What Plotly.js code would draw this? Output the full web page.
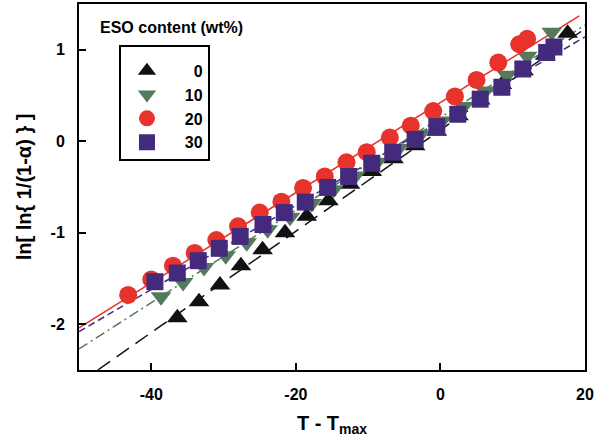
<!DOCTYPE html>
<html>
<head>
<meta charset="utf-8">
<script src="https://cdn.plot.ly/plotly-3.0.1.min.js"></script>
<style>html,body{margin:0;padding:0;background:#fff;}#chart{width:609px;height:447px;}</style>
</head>
<body>
<div id="chart"></div>
<script>
// ESO content 0 wt%
const x0 = [-36.4, -33.4, -30.5, -27.6, -24.6, -21.5, -18.5, -15.5, -12.5, -9.5, -6.5, -3.5, -0.5, 2.5, 5.5, 8.5, 11.5, 14.5, 17.6];
const y0 = [-1.93, -1.755, -1.57, -1.36, -1.185, -1.0, -0.82, -0.65, -0.47, -0.33, -0.19, -0.05, 0.11, 0.28, 0.45, 0.62, 0.77, 0.94, 1.18];
// ESO content 10 wt%
const x10 = [-38.65, -35.6, -32.7, -29.7, -26.8, -23.9, -20.8, -17.8, -14.8, -11.8, -8.8, -5.8, -2.8, 0.2, 3.2, 6.2, 9.2, 12.0, 15.4];
const y10 = [-1.70, -1.545, -1.38, -1.25, -1.11, -0.966, -0.83, -0.68, -0.53, -0.38, -0.23, -0.08, 0.07, 0.22, 0.38, 0.55, 0.72, 0.93, 1.19];
// ESO content 20 wt%
const x20 = [-43.2, -40.0, -37.0, -34.0, -31.0, -28.0, -25.0, -22.0, -19.0, -16.0, -13.0, -10.2, -7.0, -4.1, -1.0, 2.0, 5.0, 8.0, 10.9, 12.0];
const y20 = [-1.68, -1.51, -1.36, -1.22, -1.08, -0.93, -0.78, -0.66, -0.51, -0.385, -0.23, -0.12, 0.04, 0.17, 0.33, 0.49, 0.67, 0.86, 1.06, 1.12];
// ESO content 30 wt%
const x30 = [-39.5, -36.4, -33.5, -30.6, -27.7, -24.55, -21.6, -18.7, -15.6, -12.7, -9.5, -6.6, -3.5, -0.5, 2.4, 5.5, 8.5, 11.4, 14.7, 15.7];
const y30 = [-1.535, -1.44, -1.305, -1.17, -1.04, -0.91, -0.78, -0.665, -0.505, -0.385, -0.24, -0.12, 0.02, 0.16, 0.295, 0.46, 0.59, 0.79, 0.97, 1.03];

// fitted straight lines (end points)
const fit0X = [-47.4, 20];  const fit0Y = [-2.5, 1.23];
const fit10X = [-50, 20];   const fit10Y = [-2.27, 1.27];
const fit20X = [-50, 19.2]; const fit20Y = [-2.04, 1.37];
const fit30X = [-50, 20];   const fit30Y = [-2.08, 1.14];

const seriesNames = ['\u00a0\u00a0\u00a0\u00a0\u20070', '\u00a0\u00a0\u00a0\u00a010', '\u00a0\u00a0\u00a0\u00a020', '\u00a0\u00a0\u00a0\u00a030'];
const xTickVals = [-40, -20, 0, 20];
const xTickText = ['-40', '-20', '0', '20'];
const yTickVals = [-2, -1, 0, 1];
const yTickText = ['-2', '-1', '0', '1'];

const cBlack = '#111111', cGreen = '#557a5b', cRed = '#e8322c', cPurple = '#432a7c';
const FONT = 'Arial, "Liberation Sans", sans-serif';

function fitLine(x, y, color, dash) {
  return {x: x, y: y, mode: 'lines', showlegend: false, hoverinfo: 'skip',
          line: {color: color, width: 1.5, dash: dash}};
}
function pts(x, y, name, symbol, color, size, grp) {
  return {x: x, y: y, name: name, mode: 'markers', legendgroup: grp,
          marker: {symbol: symbol, color: color, size: size, line: {width: 0}}};
}

const data = [
  fitLine(fit0X, fit0Y, cBlack, '15px,8px'),
  fitLine(fit10X, fit10Y, cGreen, '10px,4px,2px,4px'),
  fitLine(fit20X, fit20Y, cRed, 'solid'),
  fitLine(fit30X, fit30Y, cPurple, '7px,4px'),
  pts(x0, y0, seriesNames[0], 'triangle-up', cBlack, 18, 'a'),
  pts(x10, y10, seriesNames[1], 'triangle-down', cGreen, 18, 'b'),
  pts(x20, y20, seriesNames[2], 'circle', cRed, 18, 'c'),
  pts(x30, y30, seriesNames[3], 'square', cPurple, 17, 'd')
];

const axisCommon = {
  showline: true, linecolor: '#000', linewidth: 2, mirror: true,
  ticks: 'inside', ticklen: 7, tickwidth: 2, tickcolor: '#000',
  showgrid: false, zeroline: false, tickmode: 'array',
  tickfont: {family: FONT, size: 16, color: '#000', weight: 'bold'},
  ticklabelstandoff: 9
};

const layout = {
  width: 609, height: 447,
  margin: {l: 79, r: 24, t: 4, b: 77},
  paper_bgcolor: '#fff', plot_bgcolor: '#fff',
  font: {family: FONT, color: '#000'},
  xaxis: Object.assign({}, axisCommon, {
    range: [-50, 20], tickvals: xTickVals, ticktext: xTickText,
    title: {text: 'T - T<sub>max</sub>', font: {family: FONT, size: 20, weight: 'bold'}, standoff: 14}
  }),
  yaxis: Object.assign({}, axisCommon, {
    range: [-2.5, 1.5], tickvals: yTickVals, ticktext: yTickText,
    title: {text: 'ln[ ln{ 1/(1-\u03b1) } ]', font: {family: FONT, size: 20, weight: 'bold'}, standoff: 14}
  }),
  showlegend: true,
  legend: {
    x: 0.079, y: 0.887, xanchor: 'left', yanchor: 'top',
    bordercolor: '#000', borderwidth: 2, bgcolor: '#fff',
    font: {family: FONT, size: 16, color: '#000', weight: 'bold'},
    title: {text: '\u00a0', font: {family: FONT, size: 5}},
    indentation: 6,
    tracegroupgap: 0, traceorder: 'normal', itemclick: false
  },
  annotations: [{
    xref: 'paper', yref: 'paper', x: 0.0375, y: 0.937, xanchor: 'left', yanchor: 'middle',
    text: 'ESO content (wt%)', showarrow: false,
    font: {family: FONT, size: 16, color: '#000', weight: 'bold'}
  }]
};

Plotly.newPlot('chart', data, layout, {staticPlot: true, displayModeBar: false});
</script>
</body>
</html>
